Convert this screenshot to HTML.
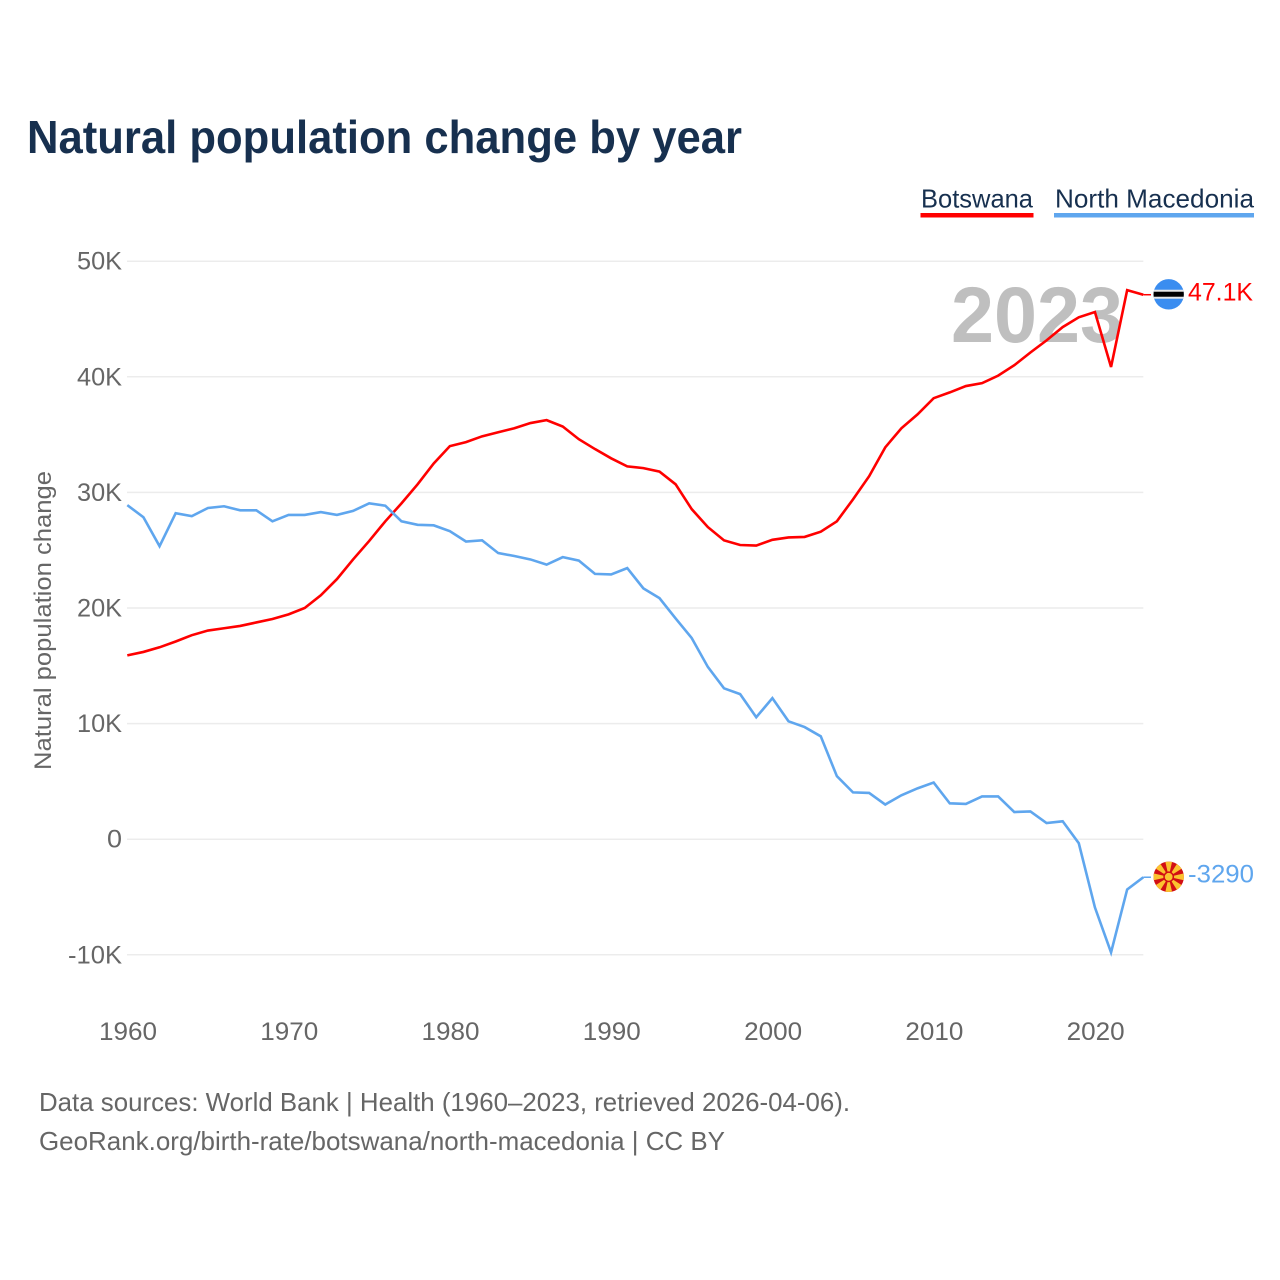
<!DOCTYPE html>
<html lang="en">
<head>
<meta charset="utf-8">
<title>Natural population change by year</title>
<style>
html,body{margin:0;padding:0;background:#fff;width:1280px;height:1280px;overflow:hidden}
svg{display:block}
text{font-family:"Liberation Sans",sans-serif}
</style>
</head>
<body>
<svg id="chart" xmlns="http://www.w3.org/2000/svg" width="1280" height="1280" viewBox="0 0 1280 1280">
  <rect width="1280" height="1280" fill="#fff"/>
  <text x="27" y="153" font-size="46" font-weight="700" fill="#17304f" textLength="715" lengthAdjust="spacingAndGlyphs">Natural population change by year</text>
  <g id="grid"></g>
  <g id="yticks"></g>
  <g id="xticks"></g>
  <text transform="translate(51,770) rotate(-90)" font-size="24" fill="#666" textLength="299" lengthAdjust="spacingAndGlyphs">Natural population change</text>
  <text x="951" y="342" font-size="79" font-weight="700" fill="#bfbfbf" textLength="172" lengthAdjust="spacingAndGlyphs">2023</text>
  <g id="series"></g>
  <g>
    <text x="921" y="207.5" font-size="26" fill="#17304f" textLength="112" lengthAdjust="spacingAndGlyphs">Botswana</text>
    <rect x="920.5" y="213" width="113" height="4.5" fill="#ff0000"/>
  </g>
  <g>
    <text x="1055" y="207.5" font-size="26" fill="#17304f" textLength="199" lengthAdjust="spacingAndGlyphs">North Macedonia</text>
    <rect x="1054" y="213" width="200" height="4.5" fill="#5fa6ee"/>
  </g>
  <text x="39" y="1111" font-size="26" fill="#666" textLength="811" lengthAdjust="spacingAndGlyphs">Data sources: World Bank | Health (1960–2023, retrieved 2026-04-06).</text>
  <text x="39" y="1150" font-size="26" fill="#666" textLength="686" lengthAdjust="spacingAndGlyphs">GeoRank.org/birth-rate/botswana/north-macedonia | CC BY</text>
</svg>
<script>
const years = [1960,1961,1962,1963,1964,1965,1966,1967,1968,1969,1970,1971,1972,1973,1974,1975,1976,1977,1978,1979,1980,1981,1982,1983,1984,1985,1986,1987,1988,1989,1990,1991,1992,1993,1994,1995,1996,1997,1998,1999,2000,2001,2002,2003,2004,2005,2006,2007,2008,2009,2010,2011,2012,2013,2014,2015,2016,2017,2018,2019,2020,2021,2022,2023];
const botswana = [15.9,16.2,16.6,17.1,17.65,18.05,18.25,18.45,18.75,19.05,19.45,20.0,21.1,22.5,24.2,25.8,27.5,29.05,30.7,32.5,34.0,34.35,34.85,35.2,35.55,36.0,36.25,35.7,34.6,33.75,32.95,32.25,32.1,31.8,30.7,28.55,27.0,25.85,25.45,25.4,25.9,26.1,26.15,26.6,27.5,29.4,31.4,33.9,35.55,36.75,38.15,38.65,39.2,39.45,40.1,41.0,42.1,43.15,44.3,45.15,45.6,40.85,47.5,47.1];
const northMacedonia = [28.9,27.85,25.35,28.2,27.95,28.65,28.8,28.45,28.45,27.5,28.05,28.05,28.3,28.05,28.4,29.05,28.85,27.5,27.2,27.15,26.65,25.75,25.85,24.75,24.5,24.2,23.75,24.4,24.1,22.95,22.9,23.45,21.7,20.85,19.1,17.4,14.9,13.05,12.55,10.55,12.2,10.2,9.7,8.9,5.45,4.05,4.0,3.0,3.8,4.4,4.9,3.1,3.05,3.7,3.7,2.35,2.4,1.4,1.55,-0.35,-5.9,-9.8,-4.35,-3.29];
const yTicks = [50,40,30,20,10,0,-10];
const yTickLabels = ["50K","40K","30K","20K","10K","0","-10K"];
const xTicks = [1960,1970,1980,1990,2000,2010,2020];
const botswanaEndLabel = "47.1K";
const macedoniaEndLabel = "-3290";

const NS = "http://www.w3.org/2000/svg";
const xScale = year => 127.3 + (year - 1960) * 16.127;
const yScale = value => 839.2 - value * 11.56;

function make(tag, attrs, parent) {
  const el = document.createElementNS(NS, tag);
  for (const k in attrs) el.setAttribute(k, attrs[k]);
  parent.appendChild(el);
  return el;
}

const grid = document.getElementById("grid");
const yG = document.getElementById("yticks");
const xG = document.getElementById("xticks");
const seriesG = document.getElementById("series");
const root = document.getElementById("chart");

yTicks.forEach((v, i) => {
  const line = make("line", {x1: 127, x2: xScale(2023), y1: yScale(v), y2: yScale(v), stroke: "#ececec", "stroke-width": 1.5}, grid);
  
  
  const label = yTickLabels[i];
  const t = make("text", {x: 122, y: yScale(v) + 8.5, "text-anchor": "end", "font-size": 25, fill: "#666", textLength: label.length === 1 ? 15 : (label.length === 4 ? 54 : 45), lengthAdjust: "spacingAndGlyphs"}, yG);
  t.textContent = label;
  
  
});

xTicks.forEach(year => {
  const t = make("text", {x: xScale(year) + 0.7, y: 1040, "text-anchor": "middle", "font-size": 25, fill: "#666", textLength: 58, lengthAdjust: "spacingAndGlyphs"}, xG);
  t.textContent = String(year);
  
  
});

function drawSeries(values, color) {
  const d = values.map((v, i) => (i ? "L" : "M") + xScale(years[i]).toFixed(2) + " " + yScale(v).toFixed(2)).join(" ");
  const path = make("path", {d: d, fill: "none", stroke: color, "stroke-width": 2.6, "stroke-linejoin": "miter"}, seriesG);
  
  
  const lastY = yScale(values[values.length - 1]);
  const conn = make("line", {x1: xScale(2023), x2: 1151, y1: lastY, y2: lastY, stroke: color, "stroke-width": 1.5}, seriesG);
  
  
  return lastY;
}

const FX = 1168.7, FR = 15.2;
const by = drawSeries(botswana, "#ff0000");
const my = drawSeries(northMacedonia, "#5fa6ee");

// Botswana flag
const bClip = make("clipPath", {id: "clipB"}, root);
make("circle", {cx: FX, cy: by - 0.4, r: FR}, bClip);
const bFlag = make("g", {"clip-path": "url(#clipB)"}, root);


make("rect", {x: FX - FR, y: by - FR - 1, width: 2 * FR, height: 2 * FR + 2, fill: "#3a8df0"}, bFlag);
make("rect", {x: FX - FR, y: by - 5, width: 2 * FR, height: 9, fill: "#e8e8e8"}, bFlag);
make("rect", {x: FX - FR, y: by - 3, width: 2 * FR, height: 5, fill: "#000"}, bFlag);

// North Macedonia flag
const mClip = make("clipPath", {id: "clipM"}, root);
make("circle", {cx: FX, cy: my - 0.4, r: FR}, mClip);
const mFlag = make("g", {"clip-path": "url(#clipM)"}, root);


make("rect", {x: FX - FR, y: my - FR - 1, width: 2 * FR, height: 2 * FR + 2, fill: "#d20f14"}, mFlag);
for (let k = 0; k < 8; k++) {
  const a = k * Math.PI / 4, s = 0.22;
  const cy = my - 0.4;
  const p = [[FX, cy],
    [FX + 18 * Math.cos(a - s), cy + 18 * Math.sin(a - s)],
    [FX + 18 * Math.cos(a + s), cy + 18 * Math.sin(a + s)]];
  make("polygon", {points: p.map(q => q[0].toFixed(2) + "," + q[1].toFixed(2)).join(" "), fill: "#fbc22f"}, mFlag);
}
make("circle", {cx: FX, cy: my - 0.4, r: 5.4, fill: "#d20f14"}, mFlag);
make("circle", {cx: FX, cy: my - 0.4, r: 3.9, fill: "#fbc22f"}, mFlag);

const bt = make("text", {x: 1188, y: by + 6, "font-size": 25, fill: "#ff0000", textLength: 65, lengthAdjust: "spacingAndGlyphs"}, root);
bt.textContent = botswanaEndLabel;


const mt = make("text", {x: 1188, y: my + 5.5, "font-size": 25, fill: "#5fa6ee", textLength: 66, lengthAdjust: "spacingAndGlyphs"}, root);
mt.textContent = macedoniaEndLabel;


</script>
</body>
</html>
